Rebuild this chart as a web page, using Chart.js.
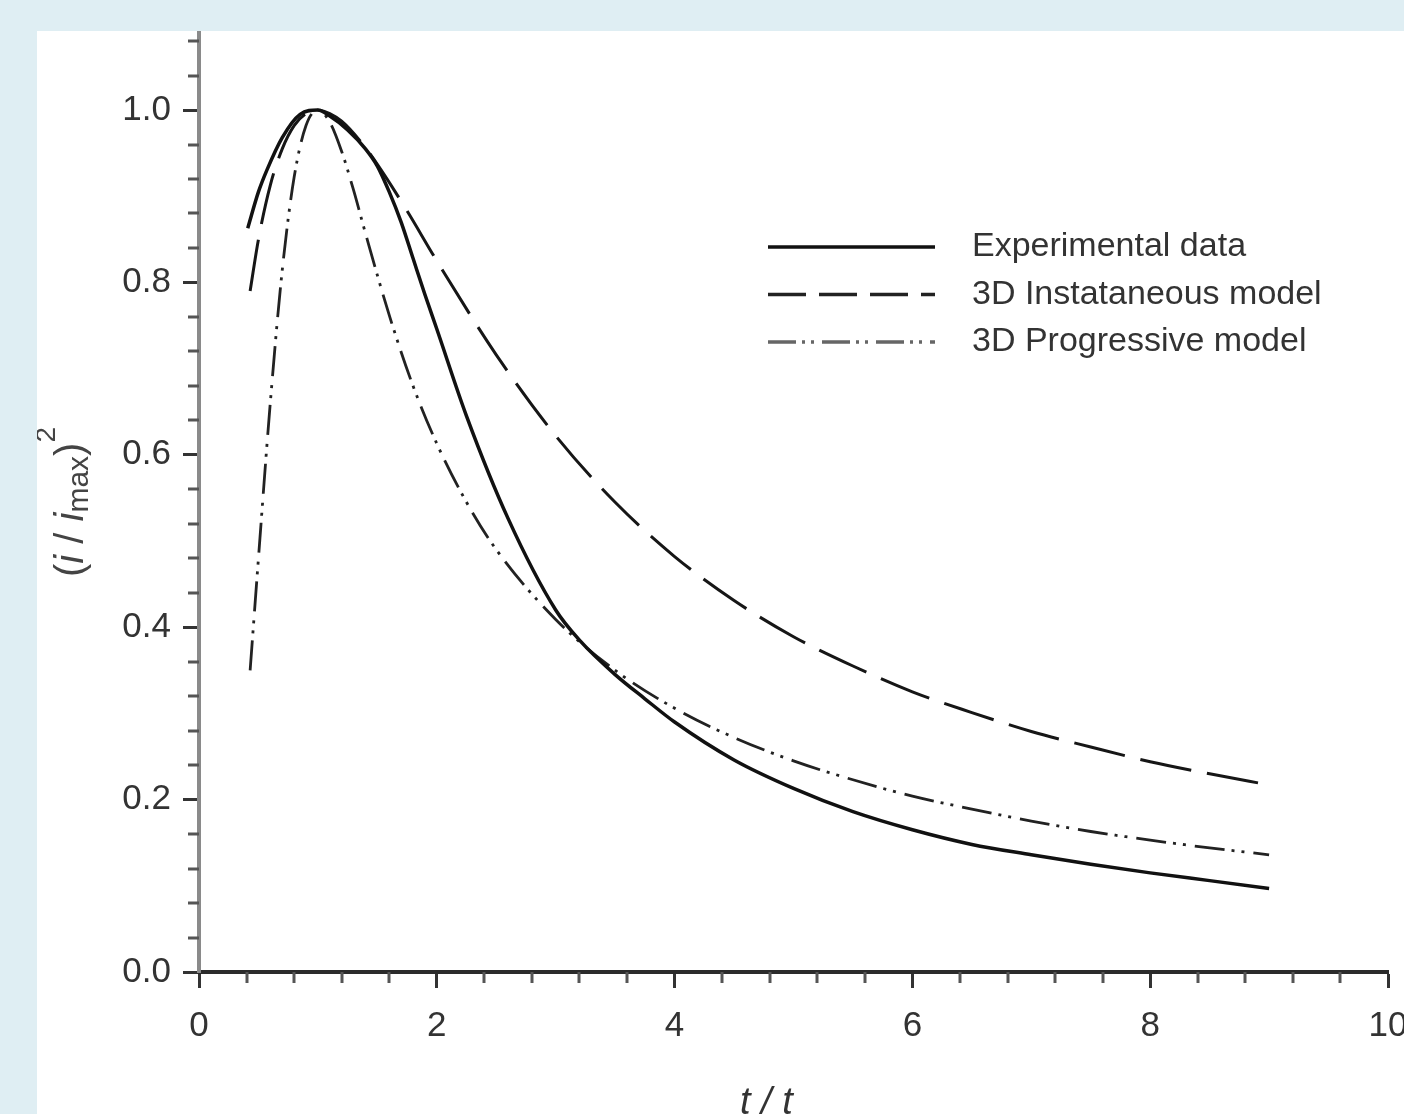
<!DOCTYPE html>
<html>
<head>
<meta charset="utf-8">
<script src="https://cdn.jsdelivr.net/npm/chart.js@4/dist/chart.umd.min.js"></script>
<style>
    html, body { margin: 0; padding: 0; width: 1404px; height: 1114px; overflow: hidden; background: #dfeef3; }
    #wrap { position: absolute; left: 37px; top: 31px; width: 1367px; height: 1083px; background: #fff; overflow: hidden; }
    #myChart { position: absolute; left: 0; top: 0; width: 1400px; height: 1150px; }
</style>
</head>
<body>
<div id="wrap"><canvas id="myChart" width="1400" height="1150"></canvas></div>
<script>
// Values: t / t_max and (i / i_max)^2
const expT = [0.41, 0.5, 0.57, 0.7, 0.85, 1.0, 1.1, 1.25, 1.4, 1.5, 1.6, 1.7, 1.8, 1.9, 2.0, 2.25, 2.6, 3.0, 3.2, 3.5, 3.75, 4.0, 4.5, 5.0, 5.5, 6.0, 6.5, 7.0, 7.5, 8.0, 8.5, 9.0];
const expY = [0.863, 0.905, 0.93, 0.968, 0.995, 1.0, 0.993, 0.977, 0.955, 0.935, 0.905, 0.87, 0.828, 0.786, 0.746, 0.645, 0.526, 0.42, 0.385, 0.345, 0.317, 0.29, 0.246, 0.213, 0.186, 0.165, 0.148, 0.136, 0.125, 0.115, 0.106, 0.097];

const instT = [0.43, 0.5, 0.6, 0.7, 0.8, 0.9, 1.0, 1.1, 1.2, 1.35, 1.5, 1.75, 2, 2.5, 3, 3.5, 4, 4.5, 5, 5.5, 6, 6.5, 7, 7.5, 8, 8.5, 9];
const instY = [0.79, 0.85, 0.913, 0.955, 0.982, 0.996, 1.0, 0.996, 0.987, 0.965, 0.937, 0.883, 0.825, 0.716, 0.622, 0.545, 0.482, 0.431, 0.389, 0.355, 0.325, 0.301, 0.279, 0.261, 0.244, 0.230, 0.217];

const progT = [0.43, 0.5, 0.6, 0.7, 0.8, 0.9, 1.0, 1.1, 1.2, 1.3, 1.4, 1.6, 1.8, 2, 2.25, 2.5, 3, 3.5, 4, 4.5, 5, 5.5, 6, 6.5, 7, 7.5, 8, 8.5, 9];
const progY = [0.35, 0.48, 0.661, 0.814, 0.922, 0.982, 1.0, 0.986, 0.952, 0.907, 0.857, 0.762, 0.680, 0.613, 0.545, 0.490, 0.409, 0.350, 0.306, 0.272, 0.245, 0.223, 0.204, 0.189, 0.175, 0.163, 0.153, 0.144, 0.136];

const seriesNames = ['Experimental data', '3D Instataneous model', '3D Progressive model'];

const FONT = "'Liberation Sans', Arial, sans-serif";

function pts(xs, ys) {
    return xs.map((x, i) => ({ x: x, y: ys[i] }));
}

function isMultiple(v, step) {
    return Math.abs(v / step - Math.round(v / step)) < 1e-6;
}

// short minor ticks, the library draws the long major ones
const minorTicks = {
    id: 'minorTicks',
    afterDraw(chart) {
        const ctx = chart.ctx;
        const xs = chart.scales.x, ys = chart.scales.y;
        const area = chart.chartArea;
        ctx.save();
        ctx.lineWidth = 3;
        ctx.strokeStyle = '#555';
        xs.ticks.forEach(t => {
            if (isMultiple(t.value, 2)) return;
            const px = Math.round(xs.getPixelForValue(t.value));
            ctx.beginPath();
            ctx.moveTo(px, area.bottom);
            ctx.lineTo(px, area.bottom + 11);
            ctx.stroke();
        });
        ys.ticks.forEach(t => {
            if (isMultiple(t.value, 0.2)) return;
            const py = Math.round(ys.getPixelForValue(t.value));
            ctx.beginPath();
            ctx.moveTo(area.left, py);
            ctx.lineTo(area.left - 11, py);
            ctx.stroke();
        });
        ctx.restore();
    }
};

// legend inside the plot and the two axis titles
const legendAndTitles = {
    id: 'legendAndTitles',
    afterDraw(chart) {
        const ctx = chart.ctx;
        const legendDash = [[], [38, 13], [28, 6, 3, 6, 3, 8]];
        const legendColor = ['#111', '#222', '#666'];
        ctx.save();
        chart.data.datasets.forEach((ds, i) => {
            const y = 216 + i * 47.5;
            ctx.strokeStyle = legendColor[i];
            ctx.lineWidth = 3.5;
            ctx.setLineDash(legendDash[i]);
            ctx.beginPath();
            ctx.moveTo(731, y);
            ctx.lineTo(898, y);
            ctx.stroke();
            ctx.setLineDash([]);
            ctx.fillStyle = '#333';
            ctx.font = '34px ' + FONT;
            ctx.textBaseline = 'middle';
            ctx.textAlign = 'left';
            ctx.fillText(ds.label, 935, y);
        });

        // y title: (i / i_max)^2, rotated
        ctx.fillStyle = '#444';
        ctx.translate(46, 546);
        ctx.rotate(-Math.PI / 2);
        ctx.textBaseline = 'alphabetic';
        const parts = [
            ['(', '40px', 0], ['i', 'italic 40px', 0], [' / ', '40px', 0], ['i', 'italic 40px', 0],
            ['max', '30px', 5], [')', '40px', 0], ['2', '28px', -28]
        ];
        let x = 0;
        parts.forEach(p => {
            ctx.font = p[1] + ' ' + FONT;
            ctx.fillText(p[0], x, p[2]);
            x += ctx.measureText(p[0]).width;
        });
        ctx.restore();

        // x title: t / t_max (cut off by the frame)
        ctx.save();
        ctx.fillStyle = '#333';
        ctx.font = 'italic 38px ' + FONT;
        ctx.textAlign = 'left';
        ctx.textBaseline = 'alphabetic';
        ctx.fillText('t / t', 703, 1083);
        ctx.restore();
    }
};

const data = {
    datasets: [{
        label: seriesNames[0],
        data: pts(expT, expY),
        borderColor: '#111',
        borderWidth: 3.5
    }, {
        label: seriesNames[1],
        data: pts(instT, instY),
        borderColor: '#161616',
        borderWidth: 3,
        borderDash: [52, 16]
    }, {
        label: seriesNames[2],
        data: pts(progT, progY),
        borderColor: '#222',
        borderWidth: 2.8,
        borderDash: [30, 7, 3, 7, 3, 9]
    }]
};

const config = {
    type: 'line',
    data: data,
    options: {
        responsive: false,
        animation: false,
        devicePixelRatio: 1,
        layout: { padding: { top: 0, right: 49, bottom: 0, left: 0 } },
        elements: {
            point: { radius: 0 },
            line: { cubicInterpolationMode: 'monotone', fill: false }
        },
        plugins: {
            legend: { display: false },
            tooltip: { enabled: false }
        },
        scales: {
            x: {
                type: 'linear',
                min: 0,
                max: 10,
                grid: {
                    drawOnChartArea: false,
                    tickLength: 16,
                    tickWidth: 3,
                    tickColor: c => isMultiple(c.tick.value, 2) ? '#333' : 'transparent'
                },
                border: { color: '#2b2b2b', width: 4 },
                ticks: {
                    stepSize: 0.4,
                    autoSkip: false,
                    maxRotation: 0,
                    padding: 17,
                    color: '#333',
                    font: { family: FONT, size: 35 },
                    callback: v => isMultiple(v, 2) ? String(Math.round(v)) : ''
                },
                afterFit: s => { s.height = 209; s.paddingLeft = 0; s.paddingRight = 0; }
            },
            y: {
                type: 'linear',
                min: 0,
                max: 1.0917,
                grid: {
                    drawOnChartArea: false,
                    tickLength: 16,
                    tickWidth: 3,
                    tickColor: c => isMultiple(c.tick.value, 0.2) ? '#333' : 'transparent'
                },
                border: { color: '#8a8a8a', width: 4 },
                ticks: {
                    stepSize: 0.04,
                    includeBounds: false,
                    autoSkip: false,
                    padding: 12,
                    color: '#333',
                    font: { family: FONT, size: 35 },
                    callback: v => isMultiple(v, 0.2) ? v.toFixed(1) : ''
                },
                afterFit: s => { s.width = 162; s.paddingTop = 0; s.paddingBottom = 0; }
            }
        }
    },
    plugins: [minorTicks, legendAndTitles]
};

const ctx = document.getElementById('myChart').getContext('2d');
const myChart = new Chart(ctx, config);
</script>
</body>
</html>
